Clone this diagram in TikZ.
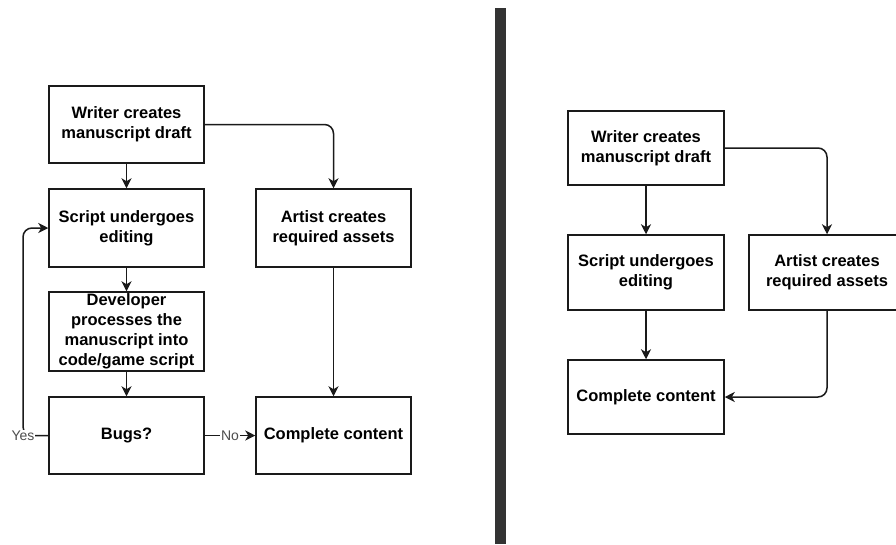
\documentclass[tikz,border=0pt]{standalone}
\usepackage{fontspec}
\setmainfont{Liberation Sans}
\usetikzlibrary{arrows.meta}
\definecolor{lnc}{HTML}{1A1A1A}
\definecolor{barc}{HTML}{333333}
\definecolor{lblc}{HTML}{4D4D4D}
\tikzset{
  box/.style={draw=lnc, line width=1.5pt, inner sep=0pt, align=center,
    minimum width=155pt, minimum height=77pt,
    font=\fontsize{16.5}{20}\selectfont\bfseries},
  conn/.style={draw=lnc, line width=1.5pt, -{Stealth[length=10pt,width=10pt,inset=3pt]}},
  lbl/.style={fill=white, inner sep=1pt, text=lblc, font=\fontsize{14}{16}\selectfont}
}
\begin{document}
\begin{tikzpicture}[x=1pt,y=-1pt]
\useasboundingbox (0,0) rectangle (896,544);
\fill[white] (0,0) rectangle (896,544);
\begin{scope}
\clip (0,0) rectangle (896,544);
% divider
\fill[barc] (495,8) rectangle (506,544);
% left flowchart
\node[box] (lw) at (126.5,124.5) {Writer creates\\manuscript draft};
\node[box, minimum height=78pt] (ls) at (126.5,228) {Script undergoes\\editing};
\node[box, minimum height=78pt] (la) at (333.5,228) {Artist creates\\required assets};
\node[box, minimum height=79pt] (ld) at (126.5,331.5) {Developer\\processes the\\manuscript into\\code/game script};
\node[box] (lb) at (126.5,435.5) {Bugs?};
\node[box] (lc) at (333.5,435.5) {Complete content};
\draw[conn] (lw.south) -- (ls.north);
\draw[conn, rounded corners=9pt] (lw.east) -| (la.north);
\draw[conn] (ls.south) -- (ld.north);
\draw[conn] (ld.south) -- (lb.north);
\draw[conn] (la.south) -- (lc.north);
\draw[conn] (lb.east) -- node[lbl] (no) {No} (lc.west);
\coordinate (yc) at (23,435.5);
\draw[conn, rounded corners=9pt] (lb.west) -- (yc) |- (ls.west);
\node[lbl] (yes) at (yc) {Yes};
% right flowchart
\node[box, minimum width=156pt, minimum height=74pt] (rw) at (646,148) {Writer creates\\manuscript draft};
\node[box, minimum width=156pt, minimum height=75pt] (rs) at (646,272.5) {Script undergoes\\editing};
\node[box, minimum width=156pt, minimum height=75pt] (ra) at (827,272.5) {Artist creates\\required assets};
\node[box, minimum width=156pt, minimum height=74pt] (rc) at (646,397) {Complete content};
\draw[conn] (rw.south) -- (rs.north);
\draw[conn, rounded corners=9pt] (rw.east) -| (ra.north);
\draw[conn] (rs.south) -- (rc.north);
\draw[conn, rounded corners=9pt] (ra.south) |- (rc.east);
\end{scope}
\end{tikzpicture}
\end{document}
